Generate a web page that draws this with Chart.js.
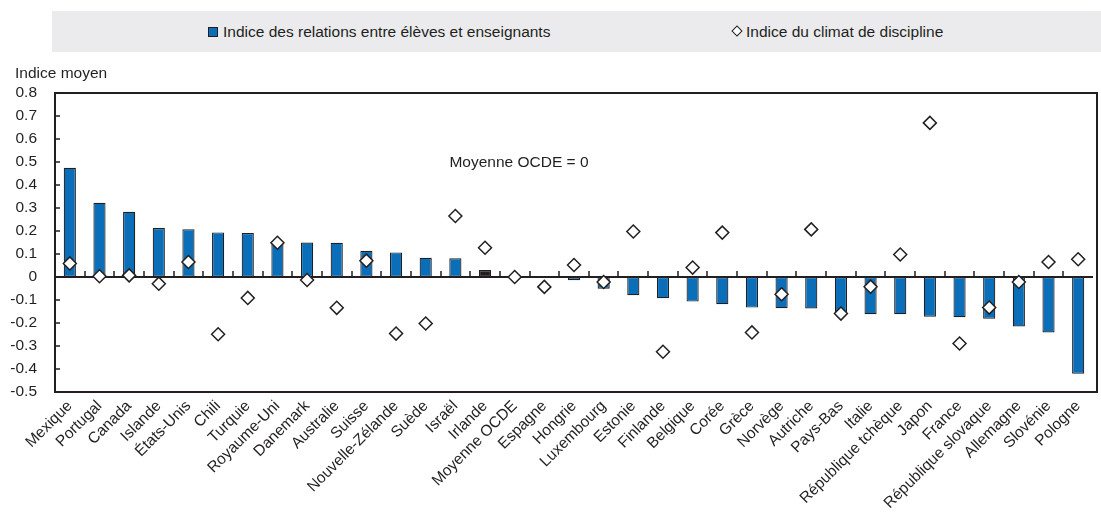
<!DOCTYPE html>
<html lang="fr">
<head>
    <meta charset="UTF-8">
    <title>Relations élèves-enseignants et climat de discipline</title>
    <script src="https://cdn.jsdelivr.net/npm/chart.js"></script>
    <style>
        body {
            margin: 0;
            background: #ffffff;
            font-family: "Liberation Sans", Arial, sans-serif;
        }
        .wrap {
            position: relative;
            width: 1101px;
            height: 513px;
        }
        .legende {
            position: absolute;
            left: 52px;
            top: 11px;
            width: 1049px;
            height: 41px;
            background: #ebebed;
            font-size: 15.5px;
            color: #231f20;
        }
        .item {
            position: absolute;
            top: 12px;
            white-space: nowrap;
        }
        .carre {
            display: inline-block;
            width: 8px;
            height: 8px;
            background: #0a6eb9;
            border: 1px solid #231f20;
            margin-right: 5px;
            vertical-align: 0px;
        }
        .losange {
            display: inline-block;
            width: 6px;
            height: 6px;
            background: #ffffff;
            border: 1.5px solid #231f20;
            transform: rotate(45deg);
            margin: 0 5px 0 2px;
            vertical-align: 2px;
        }
        canvas {
            position: absolute;
            left: 0;
            top: 0;
        }
    </style>
</head>
<body>
    <div class="wrap">
        <canvas id="graphique" width="1101" height="513"></canvas>
        <div class="legende">
            <span class="item" style="left:156px"><span class="carre"></span>Indice des relations entre élèves et enseignants</span>
            <span class="item" style="left:679px"><span class="losange"></span>Indice du climat de discipline</span>
        </div>
    </div>

    <script>
        // Données
        const pays = ['Mexique', 'Portugal', 'Canada', 'Islande', 'États-Unis', 'Chili', 'Turquie', 'Royaume-Uni', 'Danemark', 'Australie', 'Suisse', 'Nouvelle-Zélande', 'Suède', 'Israël', 'Irlande', 'Moyenne OCDE', 'Espagne', 'Hongrie', 'Luxembourg', 'Estonie', 'Finlande', 'Belgique', 'Corée', 'Grèce', 'Norvège', 'Autriche', 'Pays-Bas', 'Italie', 'République tchèque', 'Japon', 'France', 'République slovaque', 'Allemagne', 'Slovénie', 'Pologne'];
        const relations = [0.475, 0.323, 0.284, 0.213, 0.208, 0.194, 0.191, 0.152, 0.150, 0.149, 0.114, 0.107, 0.084, 0.081, 0.030, 0, 0, -0.014, -0.051, -0.079, -0.092, -0.107, -0.118, -0.133, -0.136, -0.137, -0.155, -0.162, -0.162, -0.173, -0.175, -0.181, -0.215, -0.241, -0.421];
        const discipline = [0.059, 0.003, 0.007, -0.029, 0.065, -0.249, -0.091, 0.149, -0.013, -0.134, 0.071, -0.246, -0.202, 0.265, 0.127, 0, -0.043, 0.052, -0.022, 0.198, -0.325, 0.041, 0.193, -0.241, -0.075, 0.207, -0.159, -0.042, 0.098, 0.670, -0.289, -0.133, -0.022, 0.065, 0.077];
        const paysMisEnAvant = 'Irlande';

        const bleu = '#0a6eb9';
        const noir = '#231f20';
        const police = '"Liberation Sans", Arial, sans-serif';

        // Cadre, ligne zéro, petites graduations et annotation
        const cadre = {
            id: 'cadre',
            afterDatasetDraw(chart, args) {
                if (args.index !== 0) return;
                const { ctx, chartArea: a, scales: { x, y } } = chart;
                const y0 = y.getPixelForValue(0);
                ctx.save();
                ctx.strokeStyle = noir;
                ctx.lineWidth = 2;
                ctx.beginPath();
                ctx.moveTo(a.left, y0);
                ctx.lineTo(a.right, y0);
                ctx.stroke();
                ctx.lineWidth = 1.5;
                ctx.beginPath();
                for (let i = 1; i < x.ticks.length; i++) {
                    const bx = Math.round((x.getPixelForTick(i - 1) + x.getPixelForTick(i)) / 2);
                    ctx.moveTo(bx, y0);
                    ctx.lineTo(bx, y0 - 6);
                }
                ctx.stroke();
                ctx.restore();
            },
            afterDraw(chart) {
                const { ctx, chartArea: a, scales: { x, y } } = chart;
                ctx.save();
                ctx.strokeStyle = noir;
                ctx.lineWidth = 2;
                ctx.strokeRect(a.left, a.top, a.right - a.left + 4, a.bottom - a.top);
                ctx.lineWidth = 1.5;
                ctx.beginPath();
                y.ticks.forEach(t => {
                    const py = Math.round(y.getPixelForValue(t.value));
                    ctx.moveTo(a.left, py);
                    ctx.lineTo(a.left + 5, py);
                });
                ctx.stroke();

                ctx.fillStyle = noir;
                ctx.font = '15.5px ' + police;
                ctx.textAlign = 'left';
                ctx.textBaseline = 'alphabetic';
                ctx.fillText('Indice moyen', 15, a.top - 15);
                ctx.fillText('Moyenne OCDE = 0', x.getPixelForValue(12.8), y.getPixelForValue(0.48));
                ctx.restore();
            }
        };

        new Chart(document.getElementById('graphique'), {
            type: 'bar',
            data: {
                labels: pays,
                datasets: [
                    {
                        label: 'Indice des relations entre élèves et enseignants',
                        data: relations,
                        backgroundColor: pays.map(p => p === paysMisEnAvant ? noir : bleu),
                        borderColor: noir,
                        borderWidth: 1.2,
                        borderSkipped: false,
                        barPercentage: 0.41,
                        categoryPercentage: 1,
                        order: 2
                    },
                    {
                        type: 'line',
                        label: 'Indice du climat de discipline',
                        data: discipline,
                        showLine: false,
                        pointStyle: 'rectRot',
                        pointRadius: 6.5,
                        pointBackgroundColor: '#ffffff',
                        pointBorderColor: noir,
                        pointBorderWidth: 1.5,
                        order: 1
                    }
                ]
            },
            options: {
                responsive: false,
                animation: false,
                layout: {
                    padding: { top: 93, left: 0, right: 0, bottom: 0 }
                },
                plugins: {
                    legend: { display: false },
                    tooltip: { enabled: false }
                },
                scales: {
                    x: {
                        offset: true,
                        grid: { display: false, drawTicks: false },
                        border: { display: false },
                        ticks: {
                            autoSkip: false,
                            minRotation: 45,
                            maxRotation: 45,
                            padding: 5,
                            color: noir,
                            font: { family: police, size: 15.5 }
                        },
                        afterFit(scale) {
                            scale.height = 121;
                        }
                    },
                    y: {
                        min: -0.5,
                        max: 0.8,
                        grid: { display: false, drawTicks: false },
                        border: { display: false },
                        ticks: {
                            stepSize: 0.1,
                            padding: 18,
                            color: noir,
                            font: { family: police, size: 15.5 },
                            callback: v => {
                                const r = Math.round(v * 10) / 10;
                                return r === 0 ? '0' : r.toFixed(1);
                            }
                        },
                        afterFit(scale) {
                            scale.width = 55;
                        }
                    }
                }
            },
            plugins: [cadre]
        });
    </script>
</body>
</html>
